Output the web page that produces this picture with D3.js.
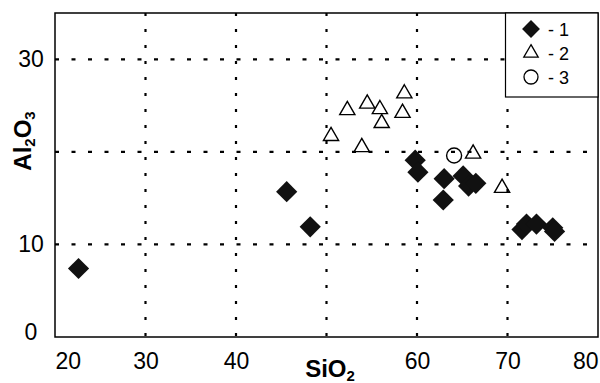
<!DOCTYPE html>
<html>
<head>
<meta charset="utf-8">
<script src="https://cdn.jsdelivr.net/npm/d3@7"></script>
<style>
  body { margin: 0; background: #fff; }
  svg { display: block; font-family: "Liberation Sans", Arial, sans-serif; }
</style>
</head>
<body>
<svg id="chart" width="600" height="383"></svg>
<script>
// group 1 (filled diamonds)
const series1 = [
  [22.6, 7.4], [45.6, 15.7], [48.2, 11.9],
  [59.8, 19.1], [60.1, 17.8], [63.0, 17.1], [62.9, 14.8],
  [65.1, 17.4], [65.7, 16.3], [66.5, 16.6],
  [71.6, 11.6], [72.1, 12.2], [73.2, 12.2], [75.0, 11.8], [75.2, 11.4]
];
// group 2 (open triangles)
const series2 = [
  [50.5, 21.7], [52.3, 24.5], [54.5, 25.2], [55.9, 24.6], [56.1, 23.1],
  [58.4, 24.2], [58.6, 26.3], [53.9, 20.5], [66.2, 19.8], [69.4, 16.1]
];
// group 3 (open circle)
const series3 = [[64.1, 19.6]];

// 50 and 20 are left out: the axis titles sit there
const xTicks = [20, 30, 40, 60, 70, 80];
const yTicks = [0, 10, 30];
const xGrid = [30, 40, 50, 60, 70];
const yGrid = [10, 20, 30];
const legendLabels = ["- 1", "- 2", "- 3"];

const svg = d3.select("#chart");
const x = d3.scaleLinear().domain([20, 80]).range([55, 598]);
const y = d3.scaleLinear().domain([0, 35]).range([337, 13]);

const diamond = d3.symbol().type(d3.symbolSquare).size(225);
const triangle = d3.symbol().type(d3.symbolTriangle).size(100);

// grid
const grid = svg.append("g").attr("stroke", "#000").attr("stroke-width", 2.2).attr("fill", "none");
grid.selectAll("line.v").data(xGrid).join("line")
  .attr("class", "v")
  .attr("x1", d => x(d)).attr("x2", d => x(d))
  .attr("y1", y(35)).attr("y2", y(0))
  .attr("stroke-dasharray", "3,13");
grid.selectAll("line.h").data(yGrid).join("line")
  .attr("class", "h")
  .attr("y1", d => y(d)).attr("y2", d => y(d))
  .attr("x1", x(20)).attr("x2", x(80))
  .attr("stroke-dasharray", "4,12.5");

// points
svg.append("g").selectAll("path").data(series1).join("path")
  .attr("d", diamond)
  .attr("transform", d => `translate(${x(d[0])},${y(d[1])}) rotate(45)`)
  .attr("fill", "#111");

svg.append("g").selectAll("path").data(series2).join("path")
  .attr("d", triangle)
  .attr("transform", d => `translate(${x(d[0])},${y(d[1])})`)
  .attr("fill", "none").attr("stroke", "#000").attr("stroke-width", 1.4);

svg.append("g").selectAll("circle").data(series3).join("circle")
  .attr("cx", d => x(d[0])).attr("cy", d => y(d[1])).attr("r", 7.5)
  .attr("fill", "none").attr("stroke", "#000").attr("stroke-width", 1.4);

// frame
svg.append("rect")
  .attr("x", x(20)).attr("y", y(35))
  .attr("width", x(80) - x(20)).attr("height", y(0) - y(35))
  .attr("fill", "none").attr("stroke", "#000").attr("stroke-width", 1.5);

// axes
const xAxis = svg.append("g")
  .attr("transform", `translate(0,${y(0)})`)
  .call(d3.axisBottom(x).tickValues(xTicks).tickSize(0).tickPadding(16));
xAxis.select(".domain").remove();
xAxis.selectAll("text")
  .attr("font-size", 23).attr("font-family", "Liberation Sans, Arial, sans-serif").attr("fill", "#000")
  .attr("text-anchor", d => d === 20 ? "start" : d === 80 ? "end" : "middle");

const yAxis = svg.append("g")
  .attr("transform", `translate(${x(20)},0)`)
  .call(d3.axisLeft(y).tickValues(yTicks).tickSize(0));
yAxis.select(".domain").remove();
yAxis.selectAll("text")
  .attr("font-size", 23).attr("font-family", "Liberation Sans, Arial, sans-serif").attr("fill", "#000")
  .attr("text-anchor", "middle").attr("x", -24)
  .attr("dy", d => d === 0 ? "0.1em" : "0.3em");

// axis titles
const xt = svg.append("text")
  .attr("x", 330).attr("y", 377)
  .attr("text-anchor", "middle")
  .attr("font-size", 24).attr("font-weight", "bold");
xt.append("tspan").text("SiO");
xt.append("tspan").text("2").attr("font-size", 15).attr("dy", 4);

const yt = svg.append("text")
  .attr("transform", "translate(31,141) rotate(-90)")
  .attr("text-anchor", "middle")
  .attr("font-size", 24).attr("font-weight", "bold");
yt.append("tspan").text("Al");
yt.append("tspan").text("2").attr("font-size", 15).attr("dy", 4);
yt.append("tspan").text("O").attr("dy", -4);
yt.append("tspan").text("3").attr("font-size", 15).attr("dy", 4);

// legend
const legend = svg.append("g");
legend.append("rect")
  .attr("x", 505.5).attr("y", y(35))
  .attr("width", x(80) - 505.5).attr("height", 84)
  .attr("fill", "#fff").attr("stroke", "#000").attr("stroke-width", 1.2);

const items = legend.selectAll("g.item").data(legendLabels).join("g")
  .attr("class", "item")
  .attr("transform", (d, i) => `translate(531,${29 + i * 24})`);

items.filter((d, i) => i === 0).append("path")
  .attr("d", d3.symbol().type(d3.symbolSquare).size(160))
  .attr("transform", "rotate(45)").attr("fill", "#111");
items.filter((d, i) => i === 1).append("path")
  .attr("d", d3.symbol().type(d3.symbolTriangle).size(90))
  .attr("fill", "none").attr("stroke", "#000").attr("stroke-width", 1.3);
items.filter((d, i) => i === 2).append("circle")
  .attr("r", 7).attr("fill", "none").attr("stroke", "#000").attr("stroke-width", 1.3);

items.append("text")
  .attr("x", 17).attr("y", 6.5)
  .attr("font-size", 18)
  .text(d => d);
</script>
</body>
</html>
